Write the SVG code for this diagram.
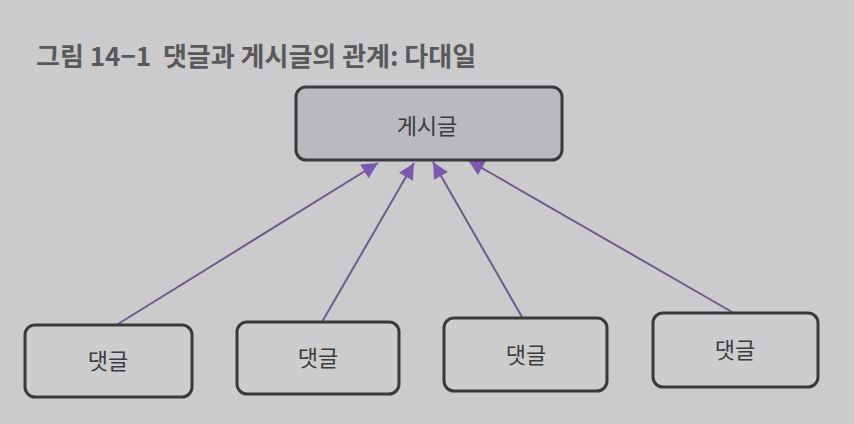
<svg xmlns="http://www.w3.org/2000/svg" width="854" height="424" viewBox="0 0 854 424">
<defs>
<style>
.bg{fill:#cbcbcd}
.node{stroke:#3a3a3c;stroke-width:3}
.top{fill:#b9b9be}
.bot{fill:#cdcdcf}
.lbl{font-family:"Noto Sans CJK KR","Noto Sans",sans-serif;font-size:22px;fill:#3c3c3e;text-anchor:middle;dominant-baseline:central}
.title{font-family:"Noto Sans CJK KR","Noto Sans",sans-serif;font-size:26px;font-weight:bold;fill:#59595b}
.edge{stroke:#6e5a8c;stroke-width:2;fill:none;marker-end:url(#ah)}
</style>
<marker id="ah" viewBox="0 0 10 10" refX="10" refY="5" markerWidth="10" markerHeight="8" markerUnits="strokeWidth" orient="auto">
<path d="M0,0 L10,5 L0,10 z" fill="#7e58b0"/>
</marker>
</defs>
<rect class="bg" x="0" y="0" width="854" height="424"/>
<text class="title" x="36" y="66" xml:space="preserve">그림 14−1  댓글과 게시글의 관계: 다대일</text>
<g id="connectors">
<line class="edge" x1="118" y1="324" x2="378" y2="163"/>
<line class="edge" x1="322" y1="322" x2="414" y2="163"/>
<line class="edge" x1="522" y1="317" x2="433" y2="162"/>
<line class="edge" x1="732" y1="312" x2="468" y2="160"/>
</g>
<g id="post">
<rect class="node top" x="296" y="87" width="266" height="73" rx="10"/>
<text class="lbl" x="427" y="124">게시글</text>
</g>
<g id="comment1">
<rect class="node bot" x="25" y="325" width="167" height="72" rx="10"/>
<text class="lbl" x="108" y="359">댓글</text>
</g>
<g id="comment2">
<rect class="node bot" x="237" y="322" width="162" height="72" rx="10"/>
<text class="lbl" x="318" y="356">댓글</text>
</g>
<g id="comment3">
<rect class="node bot" x="444" y="318" width="163" height="73" rx="10"/>
<text class="lbl" x="526" y="353">댓글</text>
</g>
<g id="comment4">
<rect class="node bot" x="653" y="313" width="165" height="74" rx="10"/>
<text class="lbl" x="735" y="348">댓글</text>
</g>
</svg>
